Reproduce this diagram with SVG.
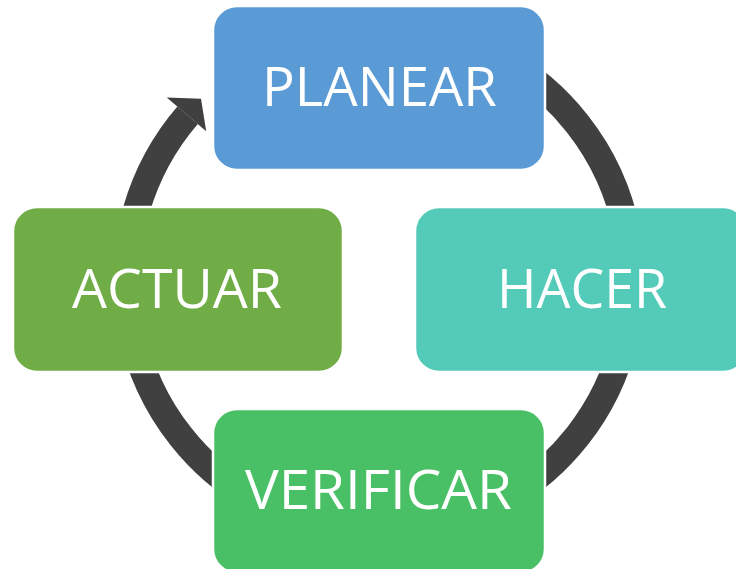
<svg xmlns="http://www.w3.org/2000/svg" width="736" height="569" viewBox="0 0 736 569">
  <style>
    .box { stroke: #ffffff; stroke-width: 2.5; }
    .lbl { font-family: "Open Sans", "Liberation Sans", sans-serif; font-size: 55px; fill: #ffffff; text-anchor: middle; }
    .arc { fill: none; stroke: #404040; stroke-width: 27; stroke-linecap: butt; }
  </style>
  <rect width="736" height="569" fill="#ffffff"/>
  <g id="connectors">
    <path class="arc" d="M 379 27.5 A 252.5 252.5 0 1 1 187.6 115.3"/>
    <polygon points="166.7,97.4 201,98.8 206.2,131.3" fill="#404040"/>
  </g>
  <g id="planear">
    <rect class="box" x="213" y="6" width="332" height="164" rx="24" fill="#5B9BD5"/>
    <text class="lbl" x="379.5" y="106" textLength="235" lengthAdjust="spacingAndGlyphs">PLANEAR</text>
  </g>
  <g id="hacer">
    <rect class="box" x="415" y="207" width="332" height="165" rx="24" fill="#54CAB8"/>
    <text class="lbl" x="582" y="308" textLength="170" lengthAdjust="spacingAndGlyphs">HACER</text>
  </g>
  <g id="verificar">
    <rect class="box" x="213" y="409" width="332" height="164" rx="24" fill="#4AC066"/>
    <text class="lbl" x="378.5" y="509" textLength="267" lengthAdjust="spacingAndGlyphs">VERIFICAR</text>
  </g>
  <g id="actuar">
    <rect class="box" x="13" y="207" width="330" height="165" rx="24" fill="#70AD47"/>
    <text class="lbl" x="177" y="308" textLength="210" lengthAdjust="spacingAndGlyphs">ACTUAR</text>
  </g>
</svg>
